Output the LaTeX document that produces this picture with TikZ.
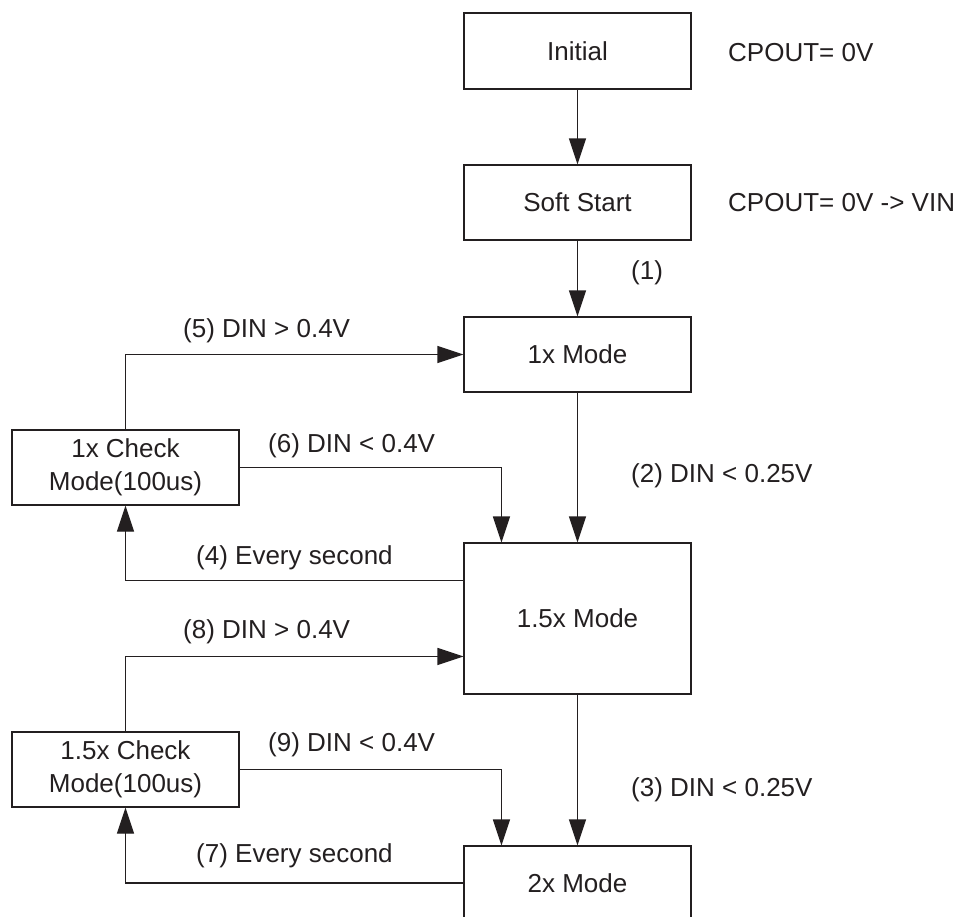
\documentclass[tikz,border=0pt]{standalone}
\usepackage{fontspec}
\setmainfont{Liberation Sans}
\usetikzlibrary{arrows.meta}
\definecolor{ink}{HTML}{231F20}
\begin{document}
\begin{tikzpicture}[x=1pt,y=-1pt,
  box/.style={draw=ink, line width=1.1pt, inner sep=0pt, text=ink,
    font=\fontsize{26}{33}\selectfont, align=center},
  lbl/.style={anchor=west, inner sep=0pt, text height=18.7pt, text depth=0pt,
    font=\fontsize{26}{33}\selectfont, text=ink},
  conn/.style={draw=ink, line width=1.1pt, -{Triangle[length=26pt,width=17pt]}},
]
\useasboundingbox (0,0) rectangle (963,916);
\clip (0,0) rectangle (963,916);
% boxes
\node[box, minimum width=227pt, minimum height=76pt] (init) at (577.5,51) {Initial};
\node[box, minimum width=227pt, minimum height=75pt] (soft) at (577.5,202.5) {Soft Start};
\node[box, minimum width=227pt, minimum height=75pt] (one) at (577.5,354.5) {1x Mode};
\node[box, minimum width=227pt, minimum height=151pt] (onefive) at (577.5,618.5) {1.5x Mode};
\node[box, minimum width=227pt, minimum height=74pt] (two) at (577.5,883) {2x Mode};
\node[box, minimum width=227pt, minimum height=75pt] (chk1) at (125.5,467.5) {1x Check\\Mode(100us)};
\node[box, minimum width=227pt, minimum height=75pt] (chk2) at (125.5,769.5) {1.5x Check\\Mode(100us)};
% connectors
\draw[conn] (init) -- (soft);
\draw[conn] (soft) -- (one);
\draw[conn] (one) -- (onefive);
\draw[conn] (onefive) -- (two);
\draw[conn] (chk1.north) |- (one.west);
\draw[conn] (chk1.east) -| ([xshift=38pt]onefive.north west);
\draw[conn] ([yshift=-38pt]onefive.north west) -| (chk1.south);
\draw[conn] (chk2.north) |- ([yshift=-114pt]onefive.north west);
\draw[conn] (chk2.east) -| ([xshift=38pt]two.north west);
\draw[conn] (two.west) -| (chk2.south);
% labels
\node[lbl] (cp1) at (728,52) {CPOUT= 0V};
\node[lbl] (cp2) at (728,202) {CPOUT= 0V -> VIN};
\node[lbl] (l1) at (631,270) {(1)};
\node[lbl] (l2) at (631,473) {(2) DIN < 0.25V};
\node[lbl] (l3) at (631,787) {(3) DIN < 0.25V};
\node[lbl] (l5) at (183,328) {(5) DIN > 0.4V};
\node[lbl] (l6) at (268,443) {(6) DIN < 0.4V};
\node[lbl] (l4) at (196,555) {(4) Every second};
\node[lbl] (l8) at (183,629) {(8) DIN > 0.4V};
\node[lbl] (l9) at (268,742) {(9) DIN < 0.4V};
\node[lbl] (l7) at (196,853) {(7) Every second};
\end{tikzpicture}
\end{document}
